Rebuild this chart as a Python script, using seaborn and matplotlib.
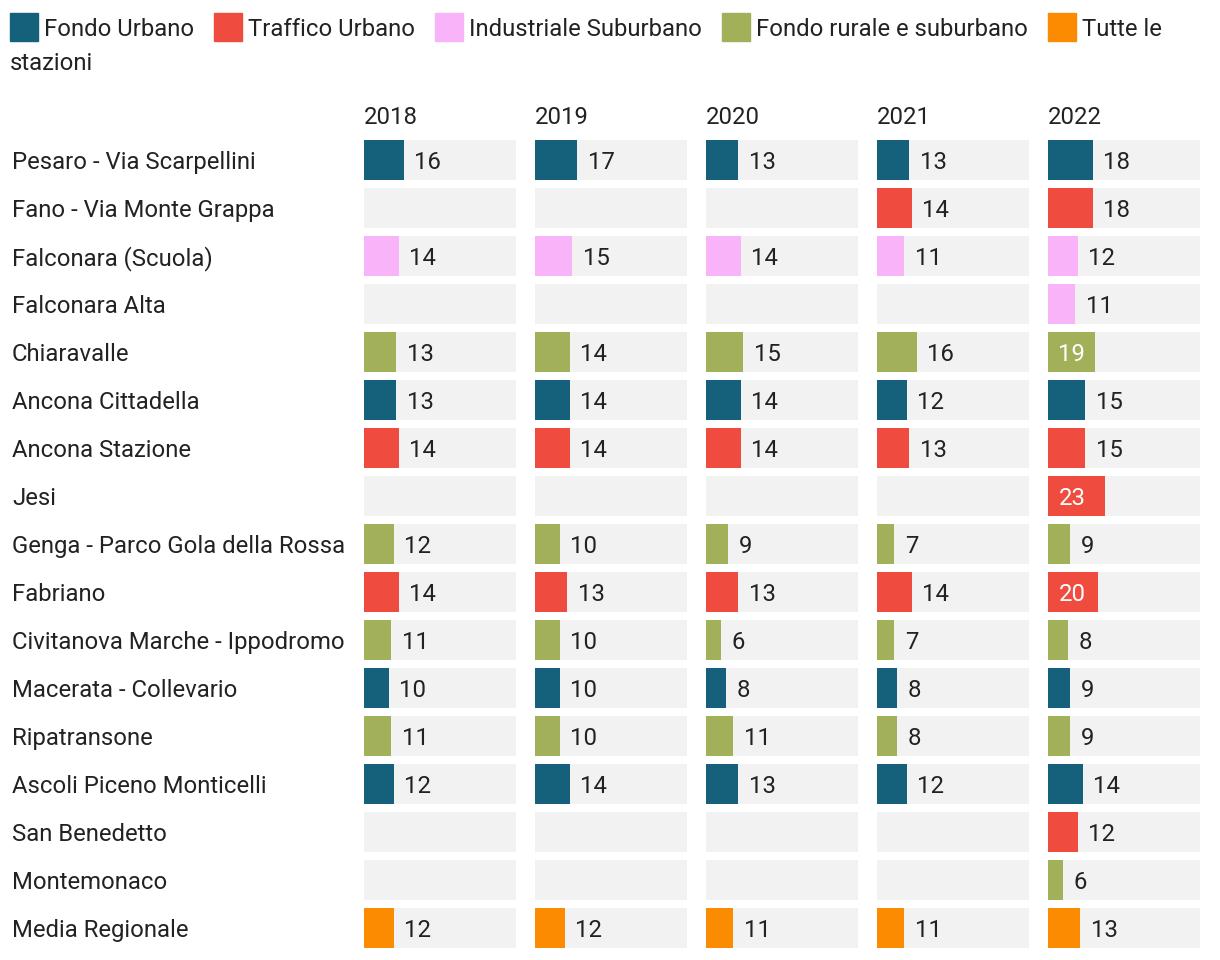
"""Average values per station and year, small multiples of horizontal bars."""

import matplotlib

matplotlib.use("Agg")
from matplotlib import pyplot as plt
from matplotlib import transforms
from matplotlib.patches import Rectangle
import numpy as np
import pandas as pd
import seaborn as sns

stations = [
    "Pesaro - Via Scarpellini",
    "Fano - Via Monte Grappa",
    "Falconara (Scuola)",
    "Falconara Alta",
    "Chiaravalle",
    "Ancona Cittadella",
    "Ancona Stazione",
    "Jesi",
    "Genga - Parco Gola della Rossa",
    "Fabriano",
    "Civitanova Marche - Ippodromo",
    "Macerata - Collevario",
    "Ripatransone",
    "Ascoli Piceno Monticelli",
    "San Benedetto",
    "Montemonaco",
    "Media Regionale",
]
station_types = [
    "Fondo Urbano",
    "Traffico Urbano",
    "Industriale Suburbano",
    "Industriale Suburbano",
    "Fondo rurale e suburbano",
    "Fondo Urbano",
    "Traffico Urbano",
    "Traffico Urbano",
    "Fondo rurale e suburbano",
    "Traffico Urbano",
    "Fondo rurale e suburbano",
    "Fondo Urbano",
    "Fondo rurale e suburbano",
    "Fondo Urbano",
    "Traffico Urbano",
    "Fondo rurale e suburbano",
    "Tutte le stazioni",
]
years = ["2018", "2019", "2020", "2021", "2022"]
values_2018 = [16, None, 14, None, 13, 13, 14, None, 12, 14, 11, 10, 11, 12, None, None, 12]
values_2019 = [17, None, 15, None, 14, 14, 14, None, 10, 13, 10, 10, 10, 14, None, None, 12]
values_2020 = [13, None, 14, None, 15, 14, 14, None, 9, 13, 6, 8, 11, 13, None, None, 11]
values_2021 = [13, 14, 11, None, 16, 12, 13, None, 7, 14, 7, 8, 8, 12, None, None, 11]
values_2022 = [18, 18, 12, 11, 19, 15, 15, 23, 9, 20, 8, 9, 9, 14, 12, 6, 13]

type_names = [
    "Fondo Urbano",
    "Traffico Urbano",
    "Industriale Suburbano",
    "Fondo rurale e suburbano",
    "Tutte le stazioni",
]
type_colors = ["#15607a", "#f04b3f", "#f9b3f9", "#a3b05a", "#fb8b00"]

XMAX = 61
W, H = 1220, 960
TEXT = "#222222"
FS = 17.2

sns.set_theme(style="white")
plt.rcParams["font.family"] = ["Roboto", "DejaVu Sans"]

rows = []
for year, vals in zip(years, [values_2018, values_2019, values_2020, values_2021, values_2022]):
    for station, kind, v in zip(stations, station_types, vals):
        if v is not None:
            rows.append({"year": year, "station": station, "tipo": kind, "value": v})
frame = pd.DataFrame(rows)

fig = plt.figure(figsize=(W / 100, H / 100), dpi=100)
palette = dict(zip(type_names, type_colors))

axes = []
for i, year in enumerate(years):
    left = 364 + i * 171
    ax = fig.add_axes([left / W, 8 / H, 152 / W, 816 / H])
    sub = frame[frame["year"] == year]
    sns.barplot(
        data=sub, x="value", y="station", hue="tipo",
        order=stations, hue_order=type_names, palette=palette,
        dodge=False, width=0.833, legend=False, saturation=1,
        linewidth=0, ax=ax,
    )
    # grey track behind each bar
    ax.barh(np.arange(len(stations)), XMAX, height=0.833, color="#f2f2f2", zorder=0, linewidth=0)
    ax.set_xlim(0, XMAX)
    ax.set_ylim(len(stations) - 0.5, -0.5)
    ax.set_axis_off()
    ax.set_title(year, loc="left", pad=9, fontsize=FS, color=TEXT)
    for _, r in sub.iterrows():
        pos = stations.index(r["station"])
        inside = r["value"] > XMAX * 0.3
        ax.annotate(
            f"{r['value']:g}",
            xy=(0 if inside else r["value"], pos),
            xytext=(7.5, 0), textcoords="offset points",
            va="center_baseline", ha="left", fontsize=FS,
            color="white" if inside else TEXT,
        )
    axes.append(ax)

trans = transforms.blended_transform_factory(fig.transFigure, axes[0].transData)
for pos, station in enumerate(stations):
    fig.text(12 / W, pos, station, transform=trans, va="center_baseline", ha="left",
             fontsize=FS, color=TEXT)

# legend laid out like the original (wraps after "Tutte le")
renderer = fig.canvas.get_renderer()
x = 10
legend_labels = type_names[:-1] + ["Tutte le"]
for label, color in zip(legend_labels, type_colors):
    fig.patches.append(Rectangle((x / W, 1 - 41 / H), 28 / W, 28 / H,
                                 transform=fig.transFigure, color=color))
    t = fig.text((x + 34) / W, 1 - 27 / H, label, va="center_baseline", ha="left",
                 fontsize=FS, color=TEXT)
    width = t.get_window_extent(renderer).width
    x = x + 34 + width + 20
fig.text(10 / W, 1 - 61 / H, "stazioni", va="center_baseline", ha="left",
         fontsize=FS, color=TEXT)

fig.savefig("out.png", dpi=100, facecolor="white")
